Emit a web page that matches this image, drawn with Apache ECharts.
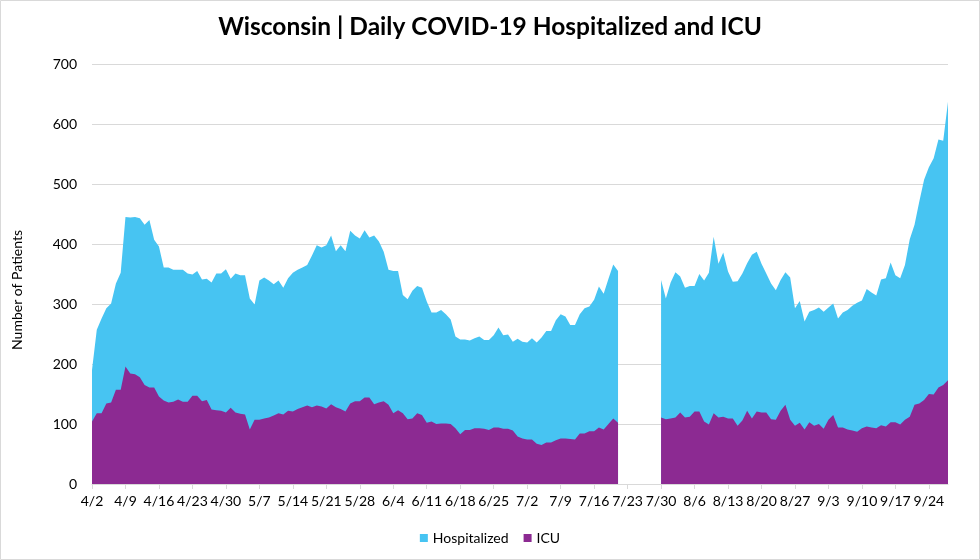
<!DOCTYPE html>
<html>
<head>
<meta charset="utf-8">
<script src="https://cdn.jsdelivr.net/npm/echarts@6/dist/echarts.min.js"></script>
<style>
  html, body { margin: 0; padding: 0; background: #fff; }
  #chart { width: 980px; height: 560px; }
</style>
</head>
<body>
<div id="chart"></div>
<script>
// Daily categories: 4/2 .. 9/28 (labels shown every 7th day)
const startMonth = 4, startDay = 2, dayCount = 180;
const monthLengths = {4: 30, 5: 31, 6: 30, 7: 31, 8: 31, 9: 30};
const categories = [];
(function () {
  let m = startMonth, d = startDay;
  for (let i = 0; i < dayCount; i++) {
    categories.push(m + '/' + d);
    d++;
    if (d > monthLengths[m]) { d = 1; m++; }
  }
})();

// Hospitalized 4/2 .. 7/21
const hospPart1 = [
  190, 257, 276, 293, 301, 334, 352, 445, 444, 445,
  443, 432, 440, 407, 396, 361, 361, 357, 357, 357,
  351, 349, 355, 341, 342, 336, 351, 351, 358, 342,
  351, 348, 348, 309, 299, 339, 344, 339, 333, 339,
  327, 343, 352, 357, 361, 365, 381, 398, 394, 398,
  414, 388, 398, 388, 422, 414, 409, 423, 411, 414,
  404, 387, 357, 355, 355, 315, 308, 322, 330, 327,
  304, 286, 286, 290, 283, 274, 246, 241, 241, 239,
  243, 246, 240, 240, 248, 261, 248, 249, 237, 242,
  237, 236, 243, 236, 244, 255, 255, 273, 283, 279,
  265, 265, 283, 293, 296, 307, 329, 317, 342, 366,
  355
];
// Missing days 7/22 .. 7/29
const gapDays = [null, null, null, null, null, null, null, null];
// Hospitalized 7/30 .. 9/28
const hospPart2 = [
  340, 309, 336, 353, 346, 327, 330, 330, 350, 339,
  352, 412, 367, 386, 354, 337, 338, 351, 368, 382,
  387, 367, 351, 334, 323, 340, 353, 344, 293, 305,
  271, 287, 290, 294, 287, 294, 301, 276, 286, 290,
  297, 302, 306, 325, 319, 314, 341, 343, 369, 348,
  343, 365, 408, 432, 471, 507, 528, 543, 574, 572,
  637
];

// ICU 4/2 .. 7/21
const icuPart1 = [
  104, 118, 118, 134, 136, 157, 157, 196, 184, 183,
  178, 165, 161, 161, 146, 139, 136, 137, 141, 137,
  137, 147, 147, 138, 140, 124, 123, 122, 119, 127,
  119, 117, 116, 91, 107, 107, 109, 111, 114, 118,
  116, 122, 121, 125, 128, 131, 128, 131, 129, 126,
  133, 128, 125, 121, 134, 138, 138, 144, 144, 133,
  136, 138, 132, 118, 123, 118, 108, 109, 118, 115,
  102, 104, 100, 101, 101, 100, 93, 83, 90, 90,
  93, 93, 92, 90, 94, 94, 92, 92, 89, 79,
  76, 74, 74, 67, 65, 69, 69, 73, 76, 76,
  75, 74, 84, 84, 88, 88, 94, 91, 100, 109,
  102
];
// ICU 7/30 .. 9/28
const icuPart2 = [
  111, 108, 109, 111, 119, 111, 112, 121, 121, 104,
  99, 118, 111, 112, 109, 109, 97, 106, 122, 109,
  121, 119, 119, 108, 107, 122, 132, 107, 97, 102,
  91, 103, 97, 100, 92, 107, 115, 94, 94, 91,
  89, 87, 93, 96, 94, 93, 98, 96, 103, 103,
  99, 107, 112, 132, 134, 140, 150, 149, 161, 165,
  173
];

const yTicks = { min: 0, max: 700, interval: 100 };

const hospitalized = hospPart1.concat(gapDays, hospPart2);
const icu = icuPart1.concat(gapDays, icuPart2);

const FONT = 'Lato, "Noto Sans", sans-serif';
const chart = echarts.init(document.getElementById('chart'), null, { renderer: 'canvas' });
chart.setOption({
  backgroundColor: '#ffffff',
  animation: false,
  title: {
    text: 'Wisconsin | Daily COVID-19 Hospitalized and ICU',
    left: 'center',
    top: 10,
    textStyle: { fontFamily: FONT, fontWeight: 'bold', fontSize: 24.5, color: '#000' }
  },
  legend: {
    data: ['Hospitalized', 'ICU'],
    bottom: 10,
    left: 'center',
    icon: 'rect',
    itemWidth: 8,
    itemHeight: 8,
    itemGap: 15,
    textStyle: { fontFamily: FONT, fontSize: 14, color: '#000' }
  },
  grid: { left: 92, right: 32, top: 64, bottom: 76 },
  xAxis: {
    type: 'category',
    data: categories,
    boundaryGap: false,
    axisLine: { lineStyle: { color: '#D9D9D9', width: 1 } },
    axisTick: { show: true, interval: 6, length: 5, lineStyle: { color: '#D9D9D9' } },
    axisLabel: { interval: 6, color: '#000', fontFamily: FONT, fontSize: 14, margin: 10 },
    splitLine: { show: false }
  },
  yAxis: {
    type: 'value',
    min: yTicks.min,
    max: yTicks.max,
    interval: yTicks.interval,
    axisLine: { show: false },
    axisTick: { show: false },
    axisLabel: { color: '#000', fontFamily: FONT, fontSize: 14, margin: 15 },
    splitLine: { lineStyle: { color: '#D9D9D9', width: 1 } }
  },
  series: [
    {
      name: 'Hospitalized',
      type: 'line',
      data: hospitalized,
      showSymbol: false,
      symbol: 'none',
      connectNulls: false,
      itemStyle: { color: '#47C4F2' },
      lineStyle: { width: 0, color: '#47C4F2' },
      areaStyle: { color: '#47C4F2', opacity: 1 },
      z: 2
    },
    {
      name: 'ICU',
      type: 'line',
      data: icu,
      showSymbol: false,
      symbol: 'none',
      connectNulls: false,
      itemStyle: { color: '#8C2A92' },
      lineStyle: { width: 0, color: '#8C2A92' },
      areaStyle: { color: '#8C2A92', opacity: 1 },
      z: 3
    }
  ],
  graphic: [
    {
      type: 'rect',
      shape: { x: 0.5, y: 0.5, width: 979, height: 559 },
      style: { fill: 'none', stroke: '#D9D9D9', lineWidth: 1 },
      silent: true
    },
    {
      type: 'text',
      x: 17,
      y: 290,
      rotation: Math.PI / 2,
      style: {
        text: 'Number of Patients',
        fontFamily: FONT,
        fontSize: 14,
        fill: '#000',
        align: 'center',
        verticalAlign: 'middle'
      }
    }
  ]
});
</script>
</body>
</html>
